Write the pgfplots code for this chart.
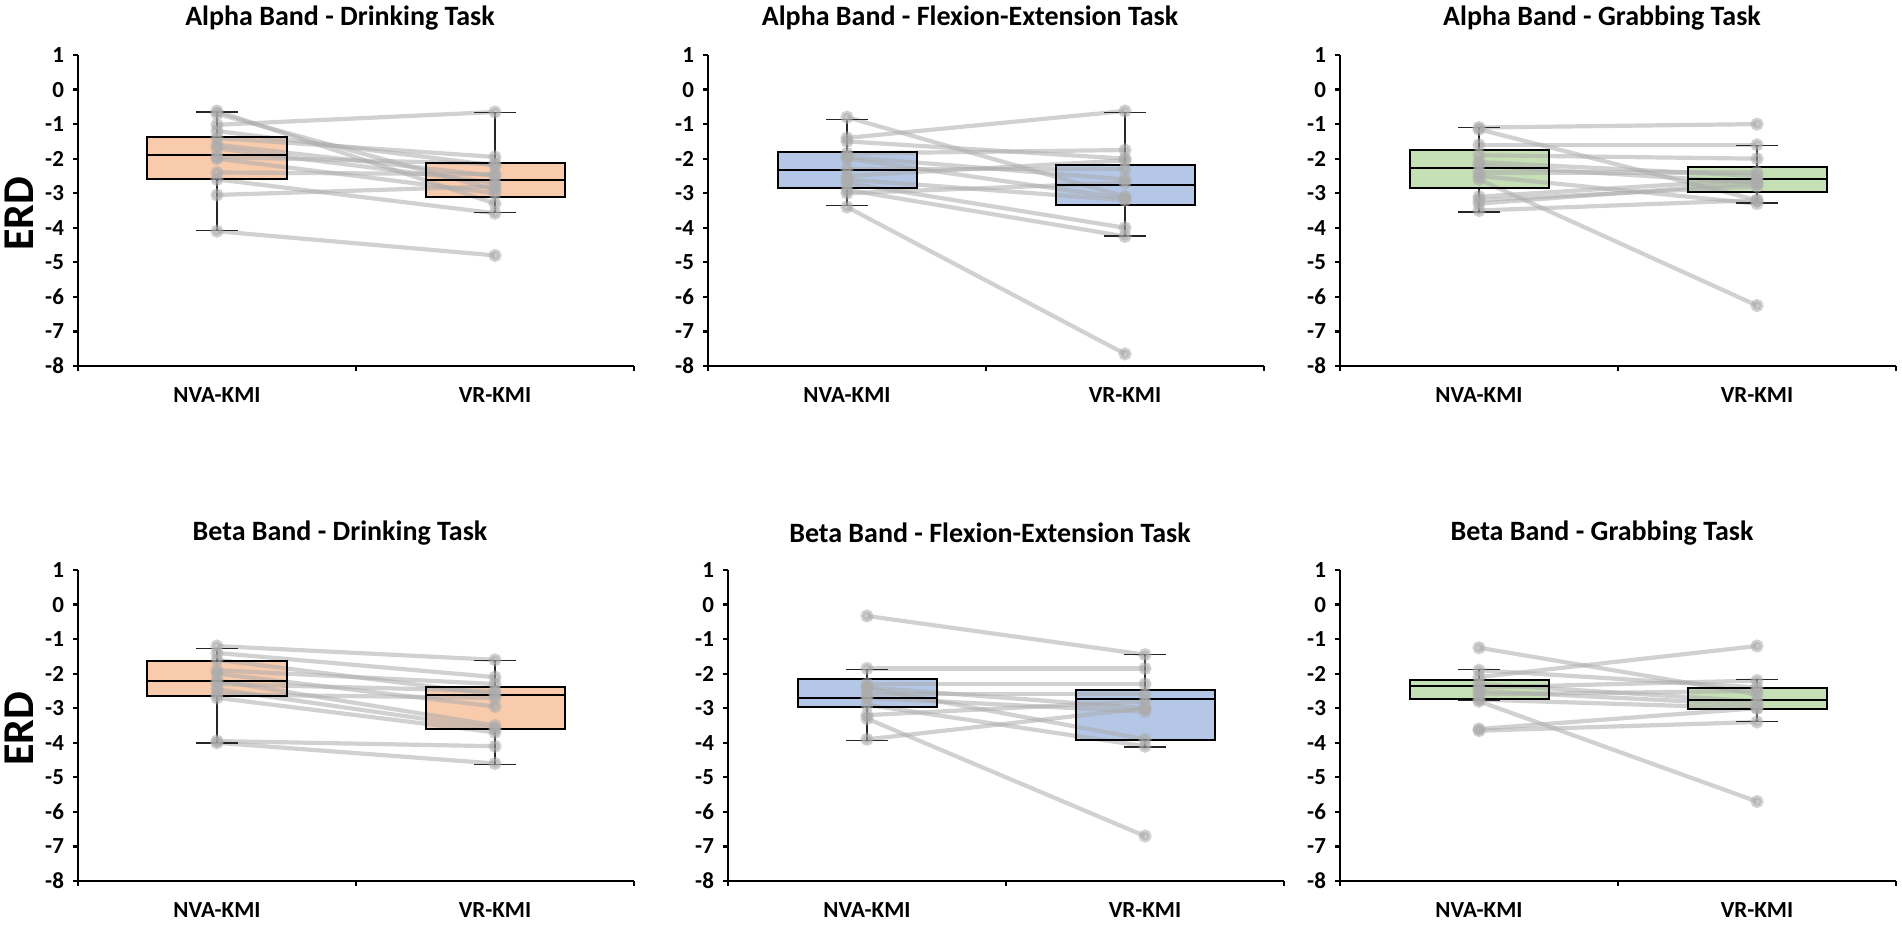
\documentclass[border=0pt]{standalone}
\usepackage{fontspec}
\setmainfont{Carlito}
\usepackage{pgfplots}
\pgfplotsset{compat=1.18}
\usepgfplotslibrary{statistics}

\definecolor{orfill}{RGB}{248,203,173}
\definecolor{blfill}{RGB}{180,199,231}
\definecolor{grfill}{RGB}{197,224,180}
\definecolor{subjgray}{RGB}{172,172,172}

\pgfplotsset{
  erdpanel/.style={
    scale only axis, width=278pt, height=155.5pt, anchor=south west,
    xmin=0, xmax=2, ymin=-8, ymax=1,
    axis x line*=bottom, axis y line*=left,
    axis line style={line width=1.3pt, black},
    tick align=outside,
    ytick={-8,-7,...,1},
    xtick={0,1,2}, x tick label as interval,
    xticklabels={NVA-KMI,VR-KMI},
    major tick length=2.5pt,
    tick style={line width=1.1pt, black},
    /pgf/number format/assume math mode=true,
    yticklabel style={font=\fontsize{11.5}{13}\selectfont\bfseries, xshift=-1pt},
    xticklabel style={font=\fontsize{11.5}{13}\selectfont\bfseries, anchor=center, yshift=-12pt},
    title style={font=\fontsize{14}{16}\selectfont\bfseries, at={(0.5,1)}, anchor=center, yshift=12.5pt, xshift=-8pt},
    boxplot/draw direction=y,
    clip=false,
  },
  subj/.style={subjgray, line width=2.1pt, opacity=0.55, mark=*, mark size=2.2pt, mark options={draw=none, fill=subjgray}},
  boxfill/.style={fill=#1, draw=none},
  boxline/.style={draw=black, fill=none, line width=1pt,
    boxplot/every whisker/.style={line width=0.65pt, draw=black!85},
    boxplot/every median/.style={line width=1pt}},
}
\newcommand{\subj}[2]{\addplot[subj] coordinates {(0.5,#1) (1.5,#2)};}
\newcommand{\bxfill}[7]{\addplot[boxplot prepared={draw position=#2, median=#3, upper quartile=#4, lower quartile=#5, upper whisker=#6, lower whisker=#7, box extend=0.5, whisker extend=0.15}, boxfill=#1] coordinates {};}
\newcommand{\bxline}[6]{\addplot[boxplot prepared={draw position=#1, median=#2, upper quartile=#3, lower quartile=#4, upper whisker=#5, lower whisker=#6, box extend=0.5, whisker extend=0.15}, boxline] coordinates {};}

\begin{document}
\begin{tikzpicture}
\useasboundingbox (0,0) rectangle (951pt,463pt);

% ---------------- Alpha Drinking ----------------
\begin{axis}[erdpanel, at={(39pt,280pt)}, title={Alpha Band - Drinking Task}]
\bxfill{orfill}{0.5}{-1.89}{-1.37}{-2.59}{-0.65}{-4.07}
\bxfill{orfill}{1.5}{-2.62}{-2.13}{-3.10}{-0.67}{-3.56}
\subj{-0.62}{-3.30}
\subj{-0.70}{-2.90}
\subj{-1.02}{-0.65}
\subj{-1.20}{-2.20}
\subj{-1.40}{-1.95}
\subj{-1.60}{-2.50}
\subj{-1.70}{-2.70}
\subj{-1.95}{-2.15}
\subj{-2.00}{-3.00}
\subj{-2.40}{-2.45}
\subj{-2.60}{-3.58}
\subj{-3.05}{-2.80}
\subj{-4.10}{-4.80}
\bxline{0.5}{-1.89}{-1.37}{-2.59}{-0.65}{-4.07}
\bxline{1.5}{-2.62}{-2.13}{-3.10}{-0.67}{-3.56}
\end{axis}

% ---------------- Alpha Flexion ----------------
\begin{axis}[erdpanel, at={(354pt,280pt)}, title={Alpha Band - Flexion-Extension Task}]
\bxfill{blfill}{0.5}{-2.33}{-1.80}{-2.86}{-0.86}{-3.36}
\bxfill{blfill}{1.5}{-2.75}{-2.17}{-3.34}{-0.66}{-4.24}
\subj{-0.80}{-3.10}
\subj{-1.40}{-0.62}
\subj{-1.50}{-2.00}
\subj{-1.85}{-1.75}
\subj{-1.95}{-2.60}
\subj{-2.00}{-3.15}
\subj{-2.30}{-2.30}
\subj{-2.50}{-2.05}
\subj{-2.60}{-3.20}
\subj{-2.70}{-4.00}
\subj{-2.90}{-4.25}
\subj{-3.00}{-2.70}
\subj{-3.40}{-7.65}
\bxline{0.5}{-2.33}{-1.80}{-2.86}{-0.86}{-3.36}
\bxline{1.5}{-2.75}{-2.17}{-3.34}{-0.66}{-4.24}
\end{axis}

% ---------------- Alpha Grabbing ----------------
\begin{axis}[erdpanel, at={(670pt,280pt)}, title={Alpha Band - Grabbing Task}]
\bxfill{grfill}{0.5}{-2.26}{-1.74}{-2.86}{-1.10}{-3.54}
\bxfill{grfill}{1.5}{-2.60}{-2.23}{-2.96}{-1.61}{-3.28}
\subj{-1.10}{-1.00}
\subj{-1.15}{-3.20}
\subj{-1.60}{-1.60}
\subj{-1.90}{-2.00}
\subj{-2.10}{-2.50}
\subj{-2.20}{-2.70}
\subj{-2.40}{-2.40}
\subj{-2.50}{-3.30}
\subj{-2.60}{-6.25}
\subj{-3.10}{-2.60}
\subj{-3.20}{-2.80}
\subj{-3.30}{-2.70}
\subj{-3.50}{-3.20}
\bxline{0.5}{-2.26}{-1.74}{-2.86}{-1.10}{-3.54}
\bxline{1.5}{-2.60}{-2.23}{-2.96}{-1.61}{-3.28}
\end{axis}

% ---------------- Beta Drinking ----------------
\begin{axis}[erdpanel, at={(39pt,22.5pt)}, title={Beta Band - Drinking Task}]
\bxfill{orfill}{0.5}{-2.22}{-1.62}{-2.66}{-1.27}{-4.01}
\bxfill{orfill}{1.5}{-2.62}{-2.38}{-3.61}{-1.61}{-4.63}
\subj{-1.20}{-1.60}
\subj{-1.40}{-2.10}
\subj{-1.60}{-2.60}
\subj{-1.90}{-2.30}
\subj{-2.00}{-2.95}
\subj{-2.20}{-3.50}
\subj{-2.30}{-2.50}
\subj{-2.45}{-3.60}
\subj{-2.60}{-2.70}
\subj{-2.70}{-3.70}
\subj{-3.95}{-4.10}
\subj{-4.00}{-4.60}
\bxline{0.5}{-2.22}{-1.62}{-2.66}{-1.27}{-4.01}
\bxline{1.5}{-2.62}{-2.38}{-3.61}{-1.61}{-4.63}
\end{axis}

% ---------------- Beta Flexion ----------------
\begin{axis}[erdpanel, at={(364pt,22.5pt)}, title={Beta Band - Flexion-Extension Task}]
\bxfill{blfill}{0.5}{-2.71}{-2.15}{-2.97}{-1.87}{-3.93}
\bxfill{blfill}{1.5}{-2.72}{-2.47}{-3.92}{-1.44}{-4.12}
\subj{-0.33}{-1.45}
\subj{-1.85}{-1.85}
\subj{-2.30}{-2.30}
\subj{-2.40}{-3.00}
\subj{-2.42}{-3.90}
\subj{-2.60}{-2.60}
\subj{-2.70}{-3.10}
\subj{-2.90}{-4.10}
\subj{-3.20}{-2.80}
\subj{-3.30}{-6.70}
\subj{-3.90}{-3.00}
\bxline{0.5}{-2.71}{-2.15}{-2.97}{-1.87}{-3.93}
\bxline{1.5}{-2.72}{-2.47}{-3.92}{-1.44}{-4.12}
\end{axis}

% ---------------- Beta Grabbing ----------------
\begin{axis}[erdpanel, at={(670pt,22.5pt)}, title={Beta Band - Grabbing Task}]
\bxfill{grfill}{0.5}{-2.36}{-2.19}{-2.73}{-1.87}{-2.76}
\bxfill{grfill}{1.5}{-2.76}{-2.41}{-3.03}{-2.17}{-3.38}
\subj{-1.25}{-2.60}
\subj{-1.90}{-2.40}
\subj{-2.10}{-1.20}
\subj{-2.30}{-2.80}
\subj{-2.40}{-2.20}
\subj{-2.50}{-2.90}
\subj{-2.60}{-2.50}
\subj{-2.75}{-3.00}
\subj{-2.80}{-5.70}
\subj{-3.60}{-3.00}
\subj{-3.65}{-3.40}
\bxline{0.5}{-2.36}{-2.19}{-2.73}{-1.87}{-2.76}
\bxline{1.5}{-2.76}{-2.41}{-3.03}{-2.17}{-3.38}
\end{axis}

\node[rotate=90, font=\fontsize{22}{24}\selectfont\bfseries] at (9.7pt,356pt) {ERD};
\node[rotate=90, font=\fontsize{22}{24}\selectfont\bfseries] at (9.7pt,98.5pt) {ERD};
\end{tikzpicture}
\end{document}
